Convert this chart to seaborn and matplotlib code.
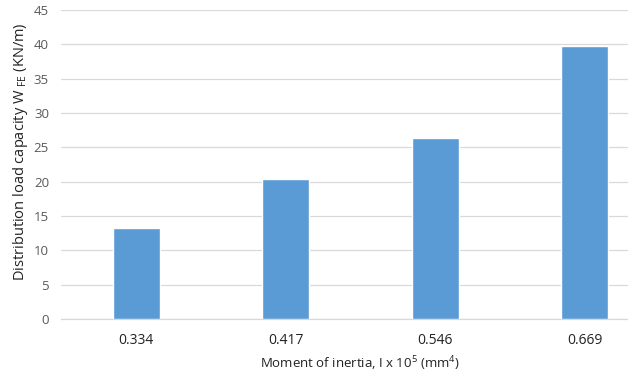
import matplotlib
matplotlib.use("Agg")
import matplotlib.pyplot as plt
import seaborn as sns
import pandas as pd

# Moment of inertia (x 10^5 mm^4) and distribution load capacity (KN/m)
inertia_labels = ["0.334", "0.417", "0.546", "0.669"]
load_capacity = [13.2, 20.4, 26.4, 39.8]
y_ticks = [0, 5, 10, 15, 20, 25, 30, 35, 40, 45]

df = pd.DataFrame({"inertia": inertia_labels, "load": load_capacity})

sns.set_theme(style="white")
plt.rcParams["font.family"] = ["Open Sans", "DejaVu Sans"]
plt.rcParams["mathtext.fontset"] = "custom"
plt.rcParams["mathtext.rm"] = "Open Sans"
plt.rcParams["mathtext.it"] = "Open Sans"

fig = plt.figure(figsize=(6.28, 3.73), dpi=100)
ax = fig.add_axes([0.0979, 0.1448, 0.952, 0.8284])

sns.barplot(data=df, x="inertia", y="load", color="#5B9BD5", width=0.314,
            saturation=1, ax=ax, zorder=3)

ax.set_ylim(0, 45)
ax.set_yticks(y_ticks)
ax.set_xlim(-0.5, len(inertia_labels) - 0.5)
ax.yaxis.grid(True, color="#D9D9D9", linewidth=0.9, zorder=0)
ax.set_axisbelow(True)
for side in ["top", "right", "left"]:
    ax.spines[side].set_visible(False)
ax.spines["bottom"].set_color("#D9D9D9")
ax.spines["bottom"].set_linewidth(0.9)

ax.tick_params(axis="y", length=0, pad=9, labelsize=9.5, labelcolor="#595959")
ax.tick_params(axis="x", length=0, pad=10, labelsize=10, labelcolor="#222222")

ax.set_xlabel(r"Moment of inertia, I x 10$^{5}$ (mm$^{4}$)", fontsize=9.5,
              color="#222222", labelpad=5)
ax.set_ylabel(r"Distribution load capacity W $_{\mathrm{FE}}$ (KN/m)",
              fontsize=10.5, color="#222222")
ax.yaxis.set_label_coords(-0.052, 0.54)

fig.savefig("out.png", dpi=100)
